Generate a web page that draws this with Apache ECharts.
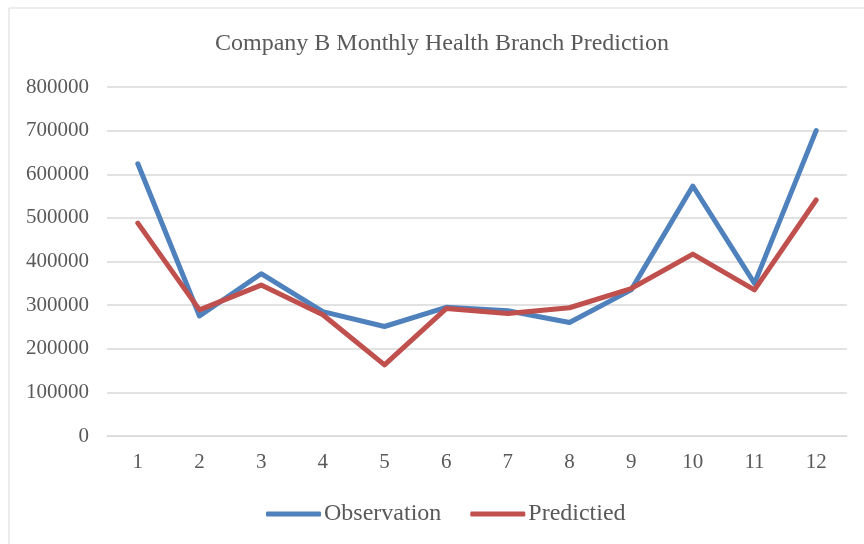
<!DOCTYPE html>
<html>
<head>
<meta charset="utf-8">
<script src="https://cdn.jsdelivr.net/npm/echarts@6/dist/echarts.min.js"></script>
<style>html,body{margin:0;padding:0;background:#fff;}#c{width:864px;height:544px;}</style>
</head>
<body>
<div id="c"></div>
<script>
const months = ['1','2','3','4','5','6','7','8','9','10','11','12'];
const observation = [624000, 275000, 372000, 285000, 251000, 295000, 287000, 260000, 335000, 573000, 350000, 700000];
const predicted = [488000, 289000, 346000, 278000, 163000, 292000, 281000, 294000, 338000, 417000, 335000, 541000];
const titleText = 'Company B Monthly Health Branch Prediction';
const seriesNames = ['Observation', 'Predictied'];

const font = '"Liberation Serif", "Times New Roman", serif';
const chart = echarts.init(document.getElementById('c'), null, {renderer: 'canvas'});
chart.setOption({
  backgroundColor: '#fff',
  animation: false,
  graphic: [{
    type: 'rect', left: 6.5, top: 5.5, shape: {width: 900, height: 600},
    style: {fill: 'none', stroke: '#d9d9d9', lineWidth: 1}, silent: true
  }],
  title: {
    text: titleText, left: 210, top: 27,
    textStyle: {fontFamily: font, fontSize: 24, fontWeight: 'normal', color: '#595959'}
  },
  legend: {
    bottom: 13, left: 261,
    itemWidth: 55, itemHeight: 5, itemGap: 29,
    icon: 'roundRect',
    textStyle: {fontFamily: font, fontSize: 24, color: '#595959', padding: [0,0,0,-2]},
    data: seriesNames
  },
  grid: {left: 107, top: 87, width: 740, height: 349, containLabel: false},
  xAxis: {
    type: 'category', data: months, boundaryGap: true,
    axisLine: {show: true, lineStyle: {color: '#d9d9d9', width: 1}},
    axisTick: {show: false},
    axisLabel: {fontFamily: font, fontSize: 21, color: '#595959', margin: 16}
  },
  yAxis: {
    type: 'value', min: 0, max: 800000, interval: 100000,
    axisLine: {show: false}, axisTick: {show: false},
    splitLine: {lineStyle: {color: '#d9d9d9', width: 1.5}},
    axisLabel: {fontFamily: font, fontSize: 21, color: '#595959', margin: 18,
      formatter: function (v) { return String(v); }}
  },
  series: [
    {name: seriesNames[0], type: 'line', data: observation, symbol: 'none',
     lineStyle: {color: '#4F81BD', width: 5, cap: 'round', join: 'round'}, itemStyle: {color: '#4F81BD'}},
    {name: seriesNames[1], type: 'line', data: predicted, symbol: 'none',
     lineStyle: {color: '#C0504D', width: 5, cap: 'round', join: 'round'}, itemStyle: {color: '#C0504D'}}
  ]
});
</script>
</body>
</html>
